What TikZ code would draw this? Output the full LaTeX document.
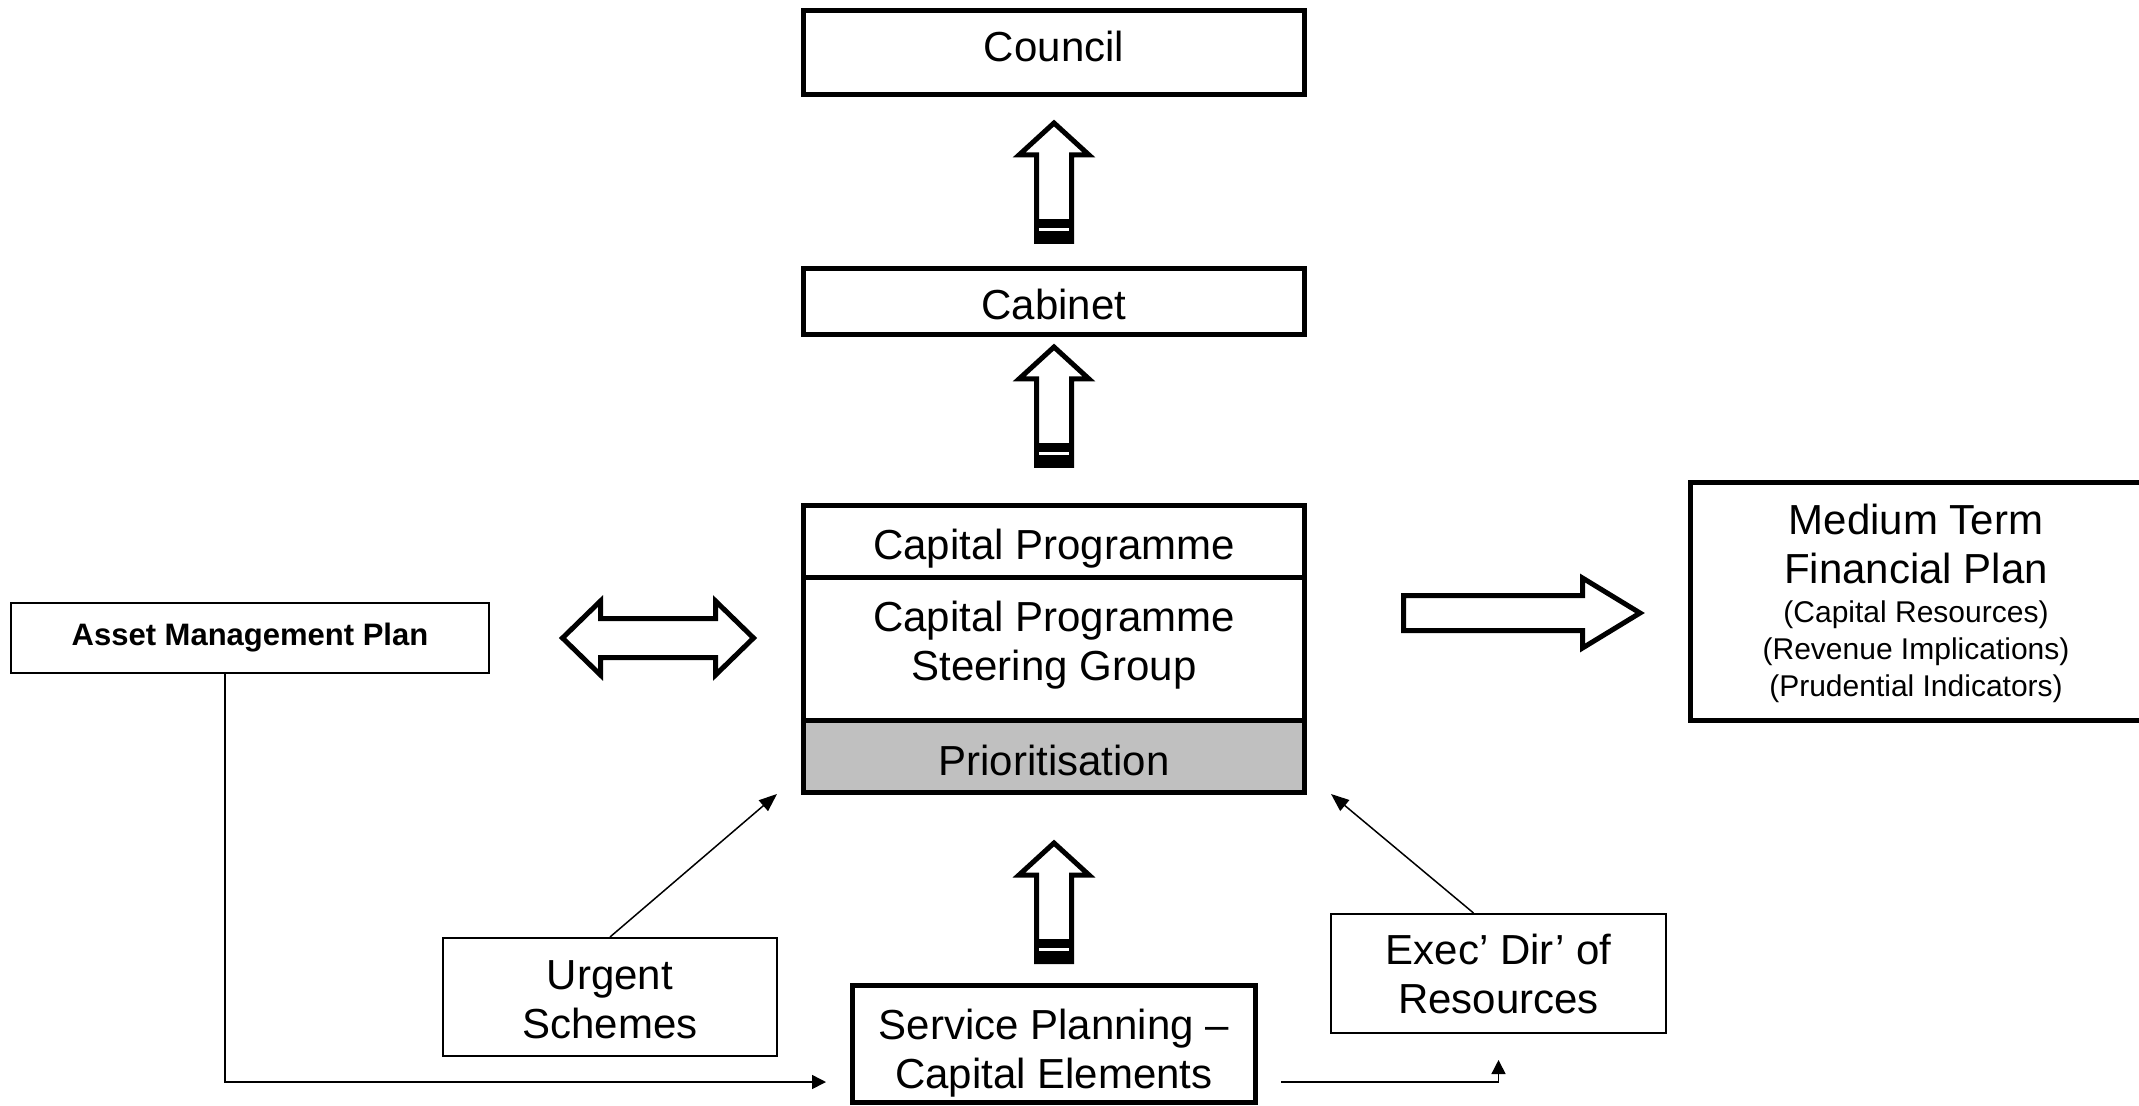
\documentclass[tikz,border=0pt]{standalone}
\usepackage{fontspec}
\setmainfont{Liberation Sans}
\usetikzlibrary{arrows.meta}
\definecolor{priorgray}{RGB}{192,192,192}
\newcommand\fbig{\fontsize{21}{24.5}\selectfont}
\newcommand\fsml{\fontsize{15}{18.5}\selectfont}
\newcommand\fasset{\fontsize{15.5}{18}\selectfont\bfseries}
\tikzset{
  thickbox/.style={draw, line width=2.5pt, rectangle, inner sep=0pt, align=center, font=\fbig},
  thinbox/.style={draw, line width=1pt, rectangle, inner sep=0pt, align=center, font=\fbig},
  txt/.style={inner sep=0pt, align=center, font=\fbig},
  txtsml/.style={inner sep=0pt, align=center, font=\fsml},
  conn/.style={line width=0.75pt, -{Triangle[length=9pt,width=7pt]}},
  connsm/.style={line width=0.75pt, -{Triangle[length=7pt,width=7pt]}},
  bigarrow/.style={draw, fill=white, line width=2.5pt, line join=miter},
  uparr/.pic={
    \draw[bigarrow] (0,4) -- (35,36) -- (17.5,36) -- (17.5,122.5) -- (-17.5,122.5) -- (-17.5,36) -- (-35,36) -- cycle;
    \fill (-20,100) rectangle (20,125);
    \fill[white] (-15,109) rectangle (15,112);
  }
}
\begin{document}
\begin{tikzpicture}[x=0.5pt,y=-0.5pt]
\useasboundingbox (0,0) rectangle (2139,1106);

% main column
\node[thickbox, minimum width=250.5pt, minimum height=42pt] (council) at (1054,52.5) {};
\node[txt] (councilt) at (1054,46) {Council};
\node[thickbox, minimum width=250.5pt, minimum height=33pt] (cabinet) at (1054,301.5) {};
\node[txt] (cabinett) at (1054,304.5) {Cabinet};
\node[thickbox, minimum width=250.5pt, minimum height=36pt] (cp1) at (1054,541.5) {};
\node[txt] (cp1t) at (1054,548.5) {Capital Programme};
\node[thickbox, minimum width=250.5pt, minimum height=71.5pt] (cp2) at (1054,649) {};
\node[txt] (cp2t) at (1054,645.5) {Capital Programme\\Steering Group};
\node[thickbox, fill=priorgray, minimum width=250.5pt, minimum height=36pt] (prior) at (1054,756.5) {};
\node[txt] (priort) at (1054,760.5) {Prioritisation};
\node[thickbox, minimum width=201.5pt, minimum height=58.5pt] (service) at (1054,1044) {};
\node[txt] (servicet) at (1054,1053) {Service Planning --\\Capital Elements};

% side boxes
\node[thickbox, minimum width=226pt, minimum height=119pt] (mtfp) at (1916,601.5) {};
\node[txt] (mtfpa) at (1916,543.5) {Medium Term\\Financial Plan};
\node[txtsml] (mtfpb) at (1916,651.5) {(Capital Resources)\\(Revenue Implications)\\(Prudential Indicators)};
\node[thinbox, font=\fasset, minimum width=239pt, minimum height=35pt] (asset) at (250,638) {Asset Management Plan};
\node[thinbox, minimum width=167pt, minimum height=59pt] (urgent) at (610,997) {};
\node[txt] (urgentt) at (610,1000) {Urgent\\Schemes};
\node[thinbox, minimum width=167.5pt, minimum height=59.5pt] (exec) at (1498.5,973.5) {Exec’ Dir’ of\\Resources};

% block arrows
\pic at (1054,119) {uparr};
\pic at (1054,343) {uparr};
\pic at (1054,839) {uparr};
\draw[bigarrow] (562.5,638) -- (600.5,601) -- (600.5,618.5) -- (715.5,618.5) -- (715.5,601) -- (753.5,638)
  -- (715.5,675) -- (715.5,657.5) -- (600.5,657.5) -- (600.5,675) -- cycle;
\draw[bigarrow] (1403.5,595.5) -- (1582.5,595.5) -- (1582.5,578) -- (1640,613) -- (1582.5,648)
  -- (1582.5,630.5) -- (1403.5,630.5) -- cycle;

% connectors
\coordinate (abend) at (225,1082);
\coordinate (stip) at (826,1082);
\coordinate (utip) at (777,794);
\coordinate (etip) at (1331,794);
\coordinate (sstart) at (1281,1082);
\coordinate (xtip) at (1498.5,1060);
\draw[connsm] (asset.south -| abend) -- (abend) -- (stip);
\draw[conn] (urgent.north) -- (utip);
\draw[conn] ([xshift=-12.5pt]exec.north) -- (etip);
\draw[connsm] (sstart) -- (sstart -| xtip) -- (xtip);
\end{tikzpicture}
\end{document}
